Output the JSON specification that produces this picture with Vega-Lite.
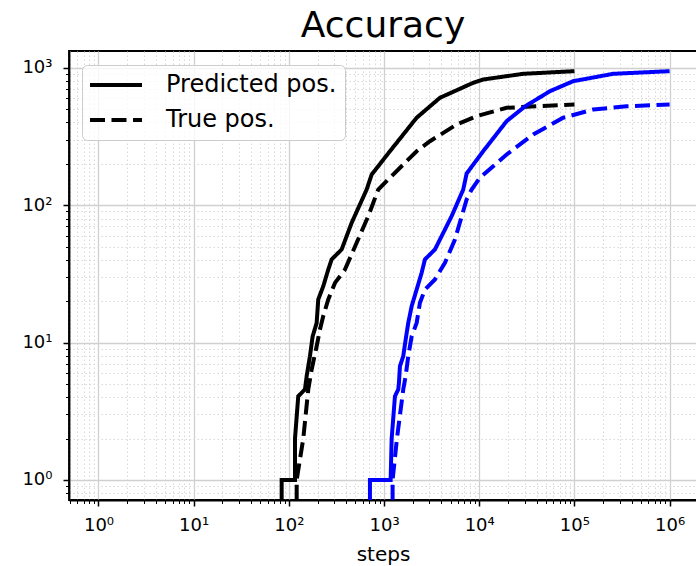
{
  "$schema": "https://vega.github.io/schema/vega-lite/v6.json",
  "width": 628,
  "height": 449,
  "autosize": {"type": "none"},
  "padding": {"left": 69, "top": 51, "right": 0, "bottom": 66},
  "background": "white",
  "config": {
    "font": "DejaVu Sans",
    "view": {"stroke": "black", "strokeWidth": 1.8},
    "title": {"fontSize": 36, "fontWeight": "normal", "font": "DejaVu Sans", "color": "black", "baseline": "alphabetic", "offset": 6, "anchor": "middle"}
  },
  "title": "Accuracy",
  "data": {
    "values": [
      {"run": "a", "type": "Predicted pos.", "i": 1, "steps": 84, "count": 0.5},
      {"run": "a", "type": "Predicted pos.", "i": 2, "steps": 84, "count": 1},
      {"run": "a", "type": "Predicted pos.", "i": 3, "steps": 116, "count": 1},
      {"run": "a", "type": "Predicted pos.", "i": 4, "steps": 116, "count": 2},
      {"run": "a", "type": "Predicted pos.", "i": 5, "steps": 125.5, "count": 4.07},
      {"run": "a", "type": "Predicted pos.", "i": 6, "steps": 147.6, "count": 4.56},
      {"run": "a", "type": "Predicted pos.", "i": 7, "steps": 153.8, "count": 5.69},
      {"run": "a", "type": "Predicted pos.", "i": 8, "steps": 166.5, "count": 7.96},
      {"run": "a", "type": "Predicted pos.", "i": 9, "steps": 177.8, "count": 11.1},
      {"run": "a", "type": "Predicted pos.", "i": 10, "steps": 195.9, "count": 13.9},
      {"run": "a", "type": "Predicted pos.", "i": 11, "steps": 203.6, "count": 20.6},
      {"run": "a", "type": "Predicted pos.", "i": 12, "steps": 229.8, "count": 25.7},
      {"run": "a", "type": "Predicted pos.", "i": 13, "steps": 259.4, "count": 34},
      {"run": "a", "type": "Predicted pos.", "i": 14, "steps": 281.6, "count": 40.3},
      {"run": "a", "type": "Predicted pos.", "i": 15, "steps": 358.5, "count": 47.6},
      {"run": "a", "type": "Predicted pos.", "i": 16, "steps": 456.7, "count": 74.4},
      {"run": "a", "type": "Predicted pos.", "i": 17, "steps": 656.6, "count": 130},
      {"run": "a", "type": "Predicted pos.", "i": 18, "steps": 741, "count": 167},
      {"run": "a", "type": "Predicted pos.", "i": 19, "steps": 1153, "count": 247},
      {"run": "a", "type": "Predicted pos.", "i": 20, "steps": 2200, "count": 433},
      {"run": "a", "type": "Predicted pos.", "i": 21, "steps": 3866, "count": 605},
      {"run": "a", "type": "Predicted pos.", "i": 22, "steps": 8650, "count": 778},
      {"run": "a", "type": "Predicted pos.", "i": 23, "steps": 11020, "count": 822},
      {"run": "a", "type": "Predicted pos.", "i": 24, "steps": 28980, "count": 904},
      {"run": "a", "type": "Predicted pos.", "i": 25, "steps": 100000, "count": 945},

      {"run": "a", "type": "True pos.", "i": 1, "steps": 120.8, "count": 0.5},
      {"run": "a", "type": "True pos.", "i": 2, "steps": 120.8, "count": 1},
      {"run": "a", "type": "True pos.", "i": 3, "steps": 141.7, "count": 2},
      {"run": "a", "type": "True pos.", "i": 4, "steps": 159.9, "count": 4.56},
      {"run": "a", "type": "True pos.", "i": 5, "steps": 173.6, "count": 6.37},
      {"run": "a", "type": "True pos.", "i": 6, "steps": 195.9, "count": 9.41},
      {"run": "a", "type": "True pos.", "i": 7, "steps": 212.2, "count": 12.46},
      {"run": "a", "type": "True pos.", "i": 8, "steps": 229.8, "count": 15.6},
      {"run": "a", "type": "True pos.", "i": 9, "steps": 259.4, "count": 20.6},
      {"run": "a", "type": "True pos.", "i": 10, "steps": 305, "count": 27.2},
      {"run": "a", "type": "True pos.", "i": 11, "steps": 388.4, "count": 34},
      {"run": "a", "type": "True pos.", "i": 12, "steps": 515.5, "count": 53.3},
      {"run": "a", "type": "True pos.", "i": 13, "steps": 682.3, "count": 83.2},
      {"run": "a", "type": "True pos.", "i": 14, "steps": 869, "count": 130},
      {"run": "a", "type": "True pos.", "i": 15, "steps": 1153, "count": 158.3},
      {"run": "a", "type": "True pos.", "i": 16, "steps": 2200, "count": 247},
      {"run": "a", "type": "True pos.", "i": 17, "steps": 3034, "count": 292},
      {"run": "a", "type": "True pos.", "i": 18, "steps": 5790, "count": 386.7},
      {"run": "a", "type": "True pos.", "i": 19, "steps": 9390, "count": 444.4},
      {"run": "a", "type": "True pos.", "i": 20, "steps": 19400, "count": 511.6},
      {"run": "a", "type": "True pos.", "i": 21, "steps": 100000, "count": 540.7},

      {"run": "b", "type": "Predicted pos.", "i": 1, "steps": 711, "count": 0.5},
      {"run": "b", "type": "Predicted pos.", "i": 2, "steps": 711, "count": 1},
      {"run": "b", "type": "Predicted pos.", "i": 3, "steps": 1173, "count": 1},
      {"run": "b", "type": "Predicted pos.", "i": 4, "steps": 1202, "count": 2},
      {"run": "b", "type": "Predicted pos.", "i": 5, "steps": 1302, "count": 4.07},
      {"run": "b", "type": "Predicted pos.", "i": 6, "steps": 1410, "count": 4.56},
      {"run": "b", "type": "Predicted pos.", "i": 7, "steps": 1434, "count": 5.1},
      {"run": "b", "type": "Predicted pos.", "i": 8, "steps": 1469, "count": 6.73},
      {"run": "b", "type": "Predicted pos.", "i": 9, "steps": 1591, "count": 7.96},
      {"run": "b", "type": "Predicted pos.", "i": 10, "steps": 1686, "count": 10.5},
      {"run": "b", "type": "Predicted pos.", "i": 11, "steps": 1796, "count": 13.9},
      {"run": "b", "type": "Predicted pos.", "i": 12, "steps": 1950, "count": 18.4},
      {"run": "b", "type": "Predicted pos.", "i": 13, "steps": 2200, "count": 24.3},
      {"run": "b", "type": "Predicted pos.", "i": 14, "steps": 2483, "count": 32.2},
      {"run": "b", "type": "Predicted pos.", "i": 15, "steps": 2689, "count": 40.3},
      {"run": "b", "type": "Predicted pos.", "i": 16, "steps": 3425, "count": 47.6},
      {"run": "b", "type": "Predicted pos.", "i": 17, "steps": 5130, "count": 83.2},
      {"run": "b", "type": "Predicted pos.", "i": 18, "steps": 6790, "count": 130},
      {"run": "b", "type": "Predicted pos.", "i": 19, "steps": 7373, "count": 170},
      {"run": "b", "type": "Predicted pos.", "i": 20, "steps": 11000, "count": 247},
      {"run": "b", "type": "Predicted pos.", "i": 21, "steps": 19400, "count": 408.7},
      {"run": "b", "type": "Predicted pos.", "i": 22, "steps": 30200, "count": 523},
      {"run": "b", "type": "Predicted pos.", "i": 23, "steps": 55300, "count": 675.5},
      {"run": "b", "type": "Predicted pos.", "i": 24, "steps": 97100, "count": 799},
      {"run": "b", "type": "Predicted pos.", "i": 25, "steps": 255600, "count": 904},
      {"run": "b", "type": "Predicted pos.", "i": 26, "steps": 1000000, "count": 945},

      {"run": "b", "type": "True pos.", "i": 1, "steps": 1230, "count": 0.5},
      {"run": "b", "type": "True pos.", "i": 2, "steps": 1230, "count": 1},
      {"run": "b", "type": "True pos.", "i": 3, "steps": 1366, "count": 2},
      {"run": "b", "type": "True pos.", "i": 4, "steps": 1591, "count": 4.56},
      {"run": "b", "type": "True pos.", "i": 5, "steps": 1686, "count": 5.69},
      {"run": "b", "type": "True pos.", "i": 6, "steps": 1796, "count": 7.96},
      {"run": "b", "type": "True pos.", "i": 7, "steps": 1950, "count": 11.1},
      {"run": "b", "type": "True pos.", "i": 8, "steps": 2200, "count": 13.9},
      {"run": "b", "type": "True pos.", "i": 9, "steps": 2383, "count": 19.5},
      {"run": "b", "type": "True pos.", "i": 10, "steps": 2689, "count": 24.3},
      {"run": "b", "type": "True pos.", "i": 11, "steps": 3425, "count": 28.8},
      {"run": "b", "type": "True pos.", "i": 12, "steps": 4362, "count": 38.1},
      {"run": "b", "type": "True pos.", "i": 13, "steps": 5556, "count": 56.3},
      {"run": "b", "type": "True pos.", "i": 14, "steps": 7373, "count": 110},
      {"run": "b", "type": "True pos.", "i": 15, "steps": 8318, "count": 130},
      {"run": "b", "type": "True pos.", "i": 16, "steps": 10170, "count": 158.3},
      {"run": "b", "type": "True pos.", "i": 17, "steps": 19400, "count": 234},
      {"run": "b", "type": "True pos.", "i": 18, "steps": 36920, "count": 327},
      {"run": "b", "type": "True pos.", "i": 19, "steps": 76280, "count": 433},
      {"run": "b", "type": "True pos.", "i": 20, "steps": 157600, "count": 497},
      {"run": "b", "type": "True pos.", "i": 21, "steps": 353400, "count": 525},
      {"run": "b", "type": "True pos.", "i": 22, "steps": 1000000, "count": 540.7}
    ]
  },
  "mark": {"type": "line", "strokeWidth": 4, "clip": true},
  "encoding": {
    "x": {
      "field": "steps",
      "type": "quantitative",
      "scale": {"type": "log", "domain": [0.49, 1940000], "nice": false},
      "axis": {
        "orient": "bottom",
        "title": "steps",
        "titleFontSize": 20,
        "titleFontWeight": "normal",
        "titleColor": "black",
        "titlePadding": 10,
        "values": [0.5,0.6,0.7,0.8,0.9,1,2,3,4,5,6,7,8,9,10,20,30,40,50,60,70,80,90,100,200,300,400,500,600,700,800,900,1000,2000,3000,4000,5000,6000,7000,8000,9000,10000,20000,30000,40000,50000,60000,70000,80000,90000,100000,200000,300000,400000,500000,600000,700000,800000,900000,1000000],
        "labelExpr": "abs(log(datum.value)/LN10 - round(log(datum.value)/LN10)) < 0.001 ? '10' + ['⁰','¹','²','³','⁴','⁵','⁶'][round(log(datum.value)/LN10)] : ''",
        "labelFontSize": 18,
        "labelColor": "black",
        "labelPadding": 10,
        "labelOverlap": false,
        "labelFlush": false,
        "domainColor": "black",
        "domainWidth": 1.8,
        "tickColor": "black",
        "tickSize": {"condition": {"test": "abs(log(datum.value)/LN10 - round(log(datum.value)/LN10)) < 0.001", "value": 6}, "value": 3.5},
        "tickWidth": {"condition": {"test": "abs(log(datum.value)/LN10 - round(log(datum.value)/LN10)) < 0.001", "value": 1.5}, "value": 1},
        "grid": true,
        "gridColor": {"condition": {"test": "abs(log(datum.value)/LN10 - round(log(datum.value)/LN10)) < 0.001", "value": "#d0d0d0"}, "value": "#d8d8d8"},
        "gridWidth": {"condition": {"test": "abs(log(datum.value)/LN10 - round(log(datum.value)/LN10)) < 0.001", "value": 1.3}, "value": 1},
        "gridDash": {"condition": {"test": "abs(log(datum.value)/LN10 - round(log(datum.value)/LN10)) < 0.001", "value": []}, "value": [1.5, 2.5]}
      }
    },
    "y": {
      "field": "count",
      "type": "quantitative",
      "scale": {"type": "log", "domain": [0.715, 1325], "nice": false},
      "axis": {
        "orient": "left",
        "title": null,
        "values": [0.8,0.9,1,2,3,4,5,6,7,8,9,10,20,30,40,50,60,70,80,90,100,200,300,400,500,600,700,800,900,1000],
        "labelExpr": "abs(log(datum.value)/LN10 - round(log(datum.value)/LN10)) < 0.001 ? '10' + ['⁰','¹','²','³','⁴','⁵','⁶'][round(log(datum.value)/LN10)] : ''",
        "labelFontSize": 18,
        "labelColor": "black",
        "labelPadding": 11,
        "labelOverlap": false,
        "labelFlush": false,
        "domainColor": "black",
        "domainWidth": 1.8,
        "tickColor": "black",
        "tickSize": {"condition": {"test": "abs(log(datum.value)/LN10 - round(log(datum.value)/LN10)) < 0.001", "value": 6}, "value": 3.5},
        "tickWidth": {"condition": {"test": "abs(log(datum.value)/LN10 - round(log(datum.value)/LN10)) < 0.001", "value": 1.5}, "value": 1},
        "grid": true,
        "gridColor": {"condition": {"test": "abs(log(datum.value)/LN10 - round(log(datum.value)/LN10)) < 0.001", "value": "#d0d0d0"}, "value": "#d8d8d8"},
        "gridWidth": {"condition": {"test": "abs(log(datum.value)/LN10 - round(log(datum.value)/LN10)) < 0.001", "value": 1.3}, "value": 1},
        "gridDash": {"condition": {"test": "abs(log(datum.value)/LN10 - round(log(datum.value)/LN10)) < 0.001", "value": []}, "value": [1.5, 2.5]}
      }
    },
    "color": {
      "field": "run",
      "type": "nominal",
      "scale": {"domain": ["a", "b"], "range": ["#000000", "#0000ff"]},
      "legend": null
    },
    "strokeDash": {
      "field": "type",
      "type": "nominal",
      "scale": {"domain": ["Predicted pos.", "True pos."], "range": [[1, 0], [15, 6.5]]},
      "legend": {
        "title": null,
        "orient": "none",
        "legendX": 13,
        "legendY": 14,
        "labelFontSize": 24,
        "labelColor": "black",
        "labelFont": "DejaVu Sans",
        "labelLimit": 400,
        "symbolType": "M-2.6,0H2.6",
        "symbolSize": 400,
        "symbolOffset": 14,
        "symbolStrokeWidth": 4,
        "symbolStrokeColor": "black",
        "labelOffset": 38,
        "rowPadding": 11,
        "padding": 8,
        "strokeColor": "#cccccc",
        "fillColor": "rgba(255,255,255,0.8)",
        "cornerRadius": 5
      }
    },
    "order": {"field": "i", "type": "quantitative"}
  }
}
